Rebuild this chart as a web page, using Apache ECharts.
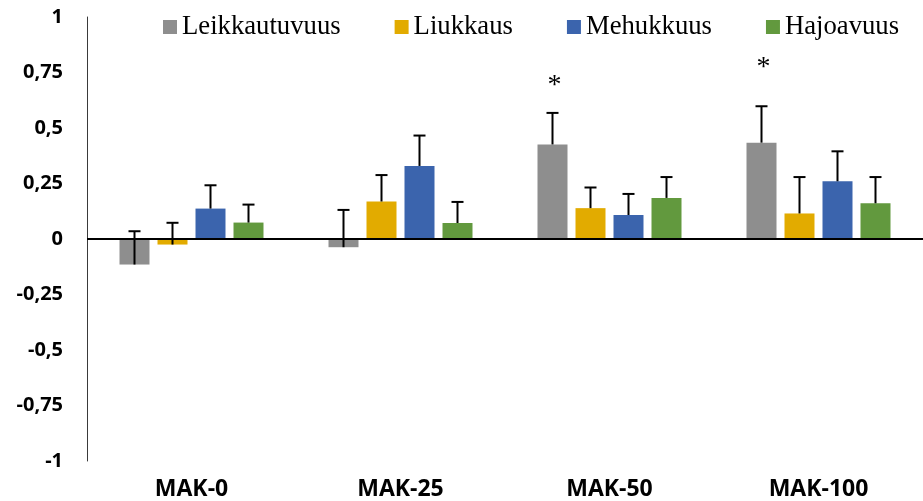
<!DOCTYPE html>
<html>
<head>
<meta charset="utf-8">
<script src="https://cdn.jsdelivr.net/npm/echarts@6/dist/echarts.min.js"></script>
<style>
  html, body { margin: 0; padding: 0; background: #fff; }
  #chart { width: 923px; height: 501px; }
</style>
</head>
<body>
<div id="chart"></div>
<script>
// Sensory attribute differences per recipe, mean with upward standard error
const categories = ['MAK-0', 'MAK-25', 'MAK-50', 'MAK-100'];

const seriesNames = ['Leikkautuvuus', 'Liukkaus', 'Mehukkuus', 'Hajoavuus'];
const seriesColors = ['#8e8e8e', '#e2ab00', '#3b64ad', '#62993e'];

const leikkautuvuus = [-0.115, -0.037, 0.426, 0.434];
const liukkaus      = [-0.025, 0.169, 0.139, 0.115];
const mehukkuus     = [0.137, 0.329, 0.108, 0.260];
const hajoavuus     = [0.074, 0.072, 0.185, 0.161];

const leikkautuvuusErr = [0.150, 0.168, 0.142, 0.164];
const liukkausErr      = [0.098, 0.119, 0.093, 0.164];
const mehukkuusErr     = [0.105, 0.137, 0.095, 0.135];
const hajoavuusErr     = [0.081, 0.095, 0.094, 0.118];

// significance marker shown above the Leikkautuvuus bar and the level it sits at
const significance = ['', '', '*', '*'];
const significanceLevel = [null, null, 0.72, 0.80];

const yTickValues = [1, 0.75, 0.5, 0.25, 0, -0.25, -0.5, -0.75, -1];

const values = [leikkautuvuus, liukkaus, mehukkuus, hajoavuus];
const errors = [leikkautuvuusErr, liukkausErr, mehukkuusErr, hajoavuusErr];

const BAR_W = 30;
const BAR_GAP = 8;
const barOffset = i => (i - 1.5) * (BAR_W + BAR_GAP);

const labelFont = '"Open Sans", "Liberation Sans", sans-serif';
const legendFont = '"Liberation Serif", "Times New Roman", serif';

const chart = echarts.init(document.getElementById('chart'), null, { renderer: 'canvas' });

const series = [];
values.forEach((vals, i) => {
  series.push({
    name: seriesNames[i],
    type: 'bar',
    data: vals,
    barWidth: BAR_W,
    barGap: (BAR_GAP / BAR_W * 100) + '%',
    itemStyle: { color: seriesColors[i] },
    z: 2,
    markLine: i === 0 ? {
      silent: true,
      symbol: 'none',
      label: { show: false },
      lineStyle: { color: '#000', width: 2, type: 'solid' },
      data: [{ yAxis: 0 }]
    } : undefined
  });
});

// error bars drawn upward from each bar end
values.forEach((vals, i) => {
  series.push({
    type: 'custom',
    name: 'err-' + i,
    z: 4,
    silent: true,
    encode: { x: 0, y: 1 },
    data: vals.map((v, k) => [k, v, errors[i][k]]),
    renderItem: (params, api) => {
      const k = api.value(0), v = api.value(1), e = api.value(2);
      const p0 = api.coord([k, v]);
      const p1 = api.coord([k, v + e]);
      const x = p0[0] + barOffset(i);
      const st = { stroke: '#000', lineWidth: 2 };
      return {
        type: 'group',
        children: [
          { type: 'line', shape: { x1: x, y1: p0[1], x2: x, y2: p1[1] }, style: st },
          { type: 'line', shape: { x1: x - 6, y1: p1[1], x2: x + 6, y2: p1[1] }, style: st }
        ]
      };
    }
  });
});

// significance asterisks
series.push({
  type: 'custom',
  name: 'sig',
  z: 5,
  silent: true,
  encode: { x: 0, y: 1 },
  data: significance.map((s, k) => [k, significanceLevel[k] === null ? NaN : significanceLevel[k], s])
    .filter(d => !isNaN(d[1])),
  renderItem: (params, api) => {
    const k = api.value(0), lvl = api.value(1);
    const p = api.coord([k, lvl]);
    return {
      type: 'text',
      style: {
        text: significance[k],
        x: p[0] + barOffset(0) + 2,
        y: p[1] + 6,
        align: 'center',
        verticalAlign: 'middle',
        font: '28px ' + legendFont,
        fill: '#000'
      }
    };
  }
});

chart.setOption({
  animation: false,
  backgroundColor: '#fff',
  legend: {
    data: seriesNames,
    left: 163,
    top: 13,
    padding: 0,
    icon: 'rect',
    itemWidth: 14,
    itemHeight: 14,
    itemGap: 54,
    textStyle: { fontFamily: legendFont, fontSize: 26.7, color: '#000', lineHeight: 28 }
  },
  grid: { left: 87, right: 0, top: 17, bottom: 38 },
  xAxis: {
    type: 'category',
    data: categories,
    position: 'bottom',
    axisLine: { show: false, onZero: false },
    axisTick: { show: false },
    axisLabel: {
      margin: 17,
      fontFamily: labelFont,
      fontWeight: 'bold',
      fontSize: 23,
      color: '#000'
    },
    splitLine: { show: false }
  },
  yAxis: {
    type: 'value',
    min: -1,
    max: 1,
    interval: 0.25,
    axisLine: { show: true, lineStyle: { color: '#3a3a3a', width: 1 } },
    axisTick: { show: false },
    splitLine: { show: false },
    axisLabel: {
      margin: 24,
      fontFamily: labelFont,
      fontWeight: 'bold',
      fontSize: 20,
      color: '#000',
      formatter: v => {
        const t = yTickValues.find(x => Math.abs(x - v) < 1e-9);
        return String(t !== undefined ? t : v).replace('.', ',');
      }
    }
  },
  series: series
});
</script>
</body>
</html>
